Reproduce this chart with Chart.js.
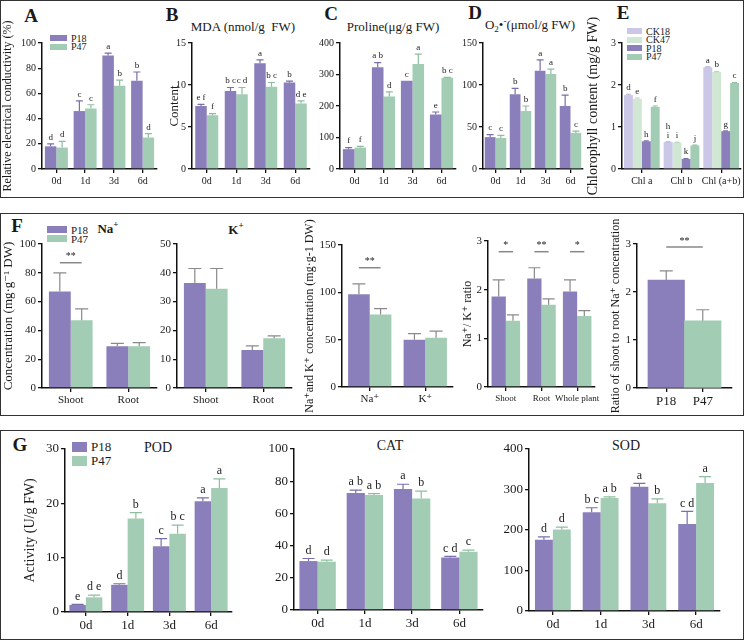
<!DOCTYPE html>
<html><head>
<meta charset="UTF-8">
<title>Salt stress physiology P18 vs P47</title>
<style>
  body { margin: 0; background: #fff; font-family: "Liberation Serif", "DejaVu Serif", serif; color: #1a1a1a; }
  #fig { position: relative; width: 744px; height: 640px; overflow: hidden; }
  .box { position: absolute; border: 1.5px solid #333; box-sizing: border-box; }
  canvas { position: absolute; }
  .c { position: absolute; transform: translate(-50%, -50%); white-space: nowrap; }
  .pl { font-weight: bold; font-size: 19px; }
  .hd { font-size: 13px; }
  .leg { position: absolute; }
  .leg div { display: flex; align-items: center; height: var(--h); white-space: nowrap; }
  .leg i { display: block; margin-right: 4px; }
  sub, sup { font-size: 70%; }
</style>
<script src="https://cdn.jsdelivr.net/npm/chart.js@4/dist/chart.umd.min.js"></script>
</head>
<body>
<div id="fig">
  <div class="box" style="left:0;top:0;width:744px;height:198px"></div>
  <div class="box" style="left:0;top:213px;width:744px;height:203px"></div>
  <div class="box" style="left:0;top:430px;width:744px;height:210px"></div>

  <div class="c pl" style="left:31px;top:16px">A</div>
  <div class="c pl" style="left:172px;top:15px">B</div>
  <div class="c pl" style="left:331px;top:14px">C</div>
  <div class="c pl" style="left:475px;top:13px">D</div>
  <div class="c pl" style="left:623px;top:13px">E</div>
  <div class="c hd" style="left:243px;top:27px">MDA (nmol/g&nbsp; FW)</div>
  <div class="c hd" style="left:393px;top:27px">Proline(μg/g FW)</div>
  <div class="c hd" style="left:530px;top:25px">O<sub>2</sub>•<sup>-</sup>(μmol/g FW)</div>

  <div class="c pl" style="left:17px;top:226px">F</div>
  <div class="c hd" style="left:108px;top:228px;font-weight:bold">Na<sup>+</sup></div>
  <div class="c hd" style="left:236px;top:229px;font-weight:bold">K<sup>+</sup></div>

  <div class="c pl" style="left:20px;top:445px">G</div>
  <div class="c" style="left:158px;top:448px;font-size:14px">POD</div>
  <div class="c" style="left:390px;top:446px;font-size:14px">CAT</div>
  <div class="c" style="left:626px;top:446px;font-size:14px">SOD</div>

  <div class="leg" style="left:50px;top:34px;font-size:10px;--h:8.5px">
    <div><i style="width:17px;height:6px;background:#8b7fbb"></i>P18</div>
    <div><i style="width:17px;height:6px;background:#a2cdb4"></i>P47</div>
  </div>
  <div class="leg" style="left:627px;top:27px;font-size:10px;--h:8.5px">
    <div><i style="width:15px;height:6px;background:#cac7e7"></i>CK18</div>
    <div><i style="width:15px;height:6px;background:#d0e8d3"></i>CK47</div>
    <div><i style="width:15px;height:6px;background:#8b7fbb"></i>P18</div>
    <div><i style="width:15px;height:6px;background:#a2cdb4"></i>P47</div>
  </div>
  <div class="leg" style="left:47px;top:225px;font-size:11px;--h:9px">
    <div><i style="width:20px;height:7px;background:#8b7fbb"></i>P18</div>
    <div><i style="width:20px;height:7px;background:#a2cdb4"></i>P47</div>
  </div>
  <div class="leg" style="left:72px;top:440px;font-size:13px;--h:14px">
    <div><i style="width:15px;height:10px;background:#8b7fbb"></i>P18</div>
    <div><i style="width:15px;height:10px;background:#a2cdb4"></i>P47</div>
  </div>
</div>

<script>
// categories
const days = ['0d', '1d', '3d', '6d'];
const chlParts = ['Chl a', 'Chl b', 'Chl (a+b)'];
const tissues = ['Shoot', 'Root'];
const ions = ['Na⁺', 'K⁺'];
const ratioParts = ['Shoot', 'Root', 'Whole plant'];
const lines = ['P18', 'P47'];

// A relative electrical conductivity
const ecP18 = [18, 46, 90, 70], ecP18Err = [2, 8, 2, 7], ecP18Let = ['d', 'c', 'a', 'b'];
const ecP47 = [17, 48, 66, 25], ecP47Err = [5, 3, 4.5, 3], ecP47Let = ['d', 'c', 'b', 'd'];
// B MDA
const mdaP18 = [7.5, 9.3, 12.6, 10.3], mdaP18Err = [0.2, 0.4, 0.4, 0.15], mdaP18Let = ['e f', 'b c', 'a', 'b'];
const mdaP47 = [6.4, 8.9, 9.8, 7.8], mdaP47Err = [0.2, 0.8, 0.5, 0.3], mdaP47Let = ['f', 'c d', 'b c', 'd e'];
// C proline
const proP18 = [63, 323, 280, 173], proP18Err = [5, 15, 0, 8], proP18Let = ['f', 'a b', 'c', 'e'];
const proP47 = [68, 230, 333, 290], proP47Err = [4, 15, 32, 1], proP47Let = ['f', 'd', 'a', 'b c'];
// D superoxide
const supP18 = [38, 89, 117, 75], supP18Err = [3, 7, 13, 13], supP18Let = ['c', 'b', 'a', 'b'];
const supP47 = [37, 69, 113, 43], supP47Err = [3, 6, 6, 2], supP47Let = ['c', 'b', 'a', 'c'];
// E chlorophyll
const chlCK18 = [1.76, 0.64, 2.42], chlCK18Err = [0.02, 0.005, 0.01], chlCK18Let = ['d', 'h\ni', 'a'];
const chlCK47 = [1.67, 0.63, 2.31], chlCK47Err = [0.02, 0.005, 0.01], chlCK47Let = ['e', 'i', 'b'];
const chlP18 = [0.66, 0.24, 0.9], chlP18Err = [0.01, 0.01, 0.01], chlP18Let = ['h', 'k', 'g'];
const chlP47 = [1.48, 0.56, 2.05], chlP47Err = [0.02, 0.01, 0.01], chlP47Let = ['f', 'j', 'c'];
// F ions
const naP18 = [67, 29], naP18Err = [13, 2];
const naP47 = [47, 29], naP47Err = [8, 2.5];
const naSig = ['**', null], naSigY = [87, 0];
const kP18 = [36.5, 13.2], kP18Err = [5, 1.4];
const kP47 = [34.5, 17.3], kP47Err = [7, 0.8];
const ionP18 = [98, 50], ionP18Err = [11, 6.3];
const ionP47 = [76.5, 52], ionP47Err = [6.3, 7];
const ionSig = ['**', null], ionSigY = [126, 0];
const nkP18 = [1.86, 2.23, 1.96], nkP18Err = [0.34, 0.22, 0.24];
const nkP47 = [1.36, 1.69, 1.46], nkP47Err = [0.12, 0.12, 0.11];
const nkSig = ['*', '**', '*'], nkSigY = [2.78, 2.78, 2.78];
const shootRoot = [2.25, 1.4], shootRootErr = [0.19, 0.23];
const shootRootSig = '**', shootRootSigY = 2.94;
// G enzymes
const podP18 = [1.3, 5.0, 12.1, 20.4], podP18Err = [0.1, 0.2, 1.4, 0.6], podP18Let = ['e', 'd', 'c', 'a'];
const podP47 = [2.7, 17.2, 14.4, 22.8], podP47Err = [0.4, 1.1, 1.6, 1.7], podP47Let = ['d e', 'b', 'b c', 'a'];
const catP18 = [30.4, 72.7, 75.2, 32.6], catP18Err = [1.6, 1.7, 2.9, 0.7], catP18Let = ['d', 'a b', 'a', 'c d'];
const catP47 = [30, 71.5, 69.2, 36.2], catP47Err = [1, 0.8, 4.6, 1], catP47Let = ['d', 'a b', 'b', 'c'];
const sodP18 = [176, 244, 307, 215], sodP18Err = [7, 11, 8, 31], sodP18Let = ['d', 'b c', 'a', 'c d'];
const sodP47 = [201, 279, 266, 316], sodP47Err = [6, 3, 11, 16], sodP47Let = ['d', 'a b', 'b', 'a'];

const purple = '#8b7fbb', green = '#a2cdb4', ckPurple = '#cac7e7', ckGreen = '#d0e8d3';
const purpleErr = '#7a6eab', greenErr = '#8ebd9f', greyErr = '#8a8a8a';

Chart.defaults.font.family = '"Liberation Serif", "DejaVu Serif", serif';
Chart.defaults.color = '#1a1a1a';
const fig = document.getElementById('fig');

// error bars, significance letters and ** brackets
const extras = {
  id: 'extras',
  afterDatasetsDraw(chart, args, o) {
    const ctx = chart.ctx, y = chart.scales.y;
    ctx.save();
    chart.data.datasets.forEach((ds, i) => {
      chart.getDatasetMeta(i).data.forEach((bar, j) => {
        const d = ds.data[j];
        if (d == null) return;
        const v = typeof d === 'object' ? d.y : d;
        const e = ds.err ? ds.err[j] : 0;
        const top = y.getPixelForValue(v + e);
        if (e > 0) {
          ctx.strokeStyle = ds.errColor;
          ctx.lineWidth = 1.2;
          ctx.beginPath();
          ctx.moveTo(bar.x, bar.y); ctx.lineTo(bar.x, top);
          ctx.moveTo(bar.x - o.cap, top); ctx.lineTo(bar.x + o.cap, top);
          ctx.stroke();
        }
        if (ds.letters && ds.letters[j]) {
          ctx.fillStyle = '#222';
          ctx.font = o.size + 'px "Liberation Serif", serif';
          ctx.textAlign = 'center';
          ctx.textBaseline = 'bottom';
          ds.letters[j].split('\n').reverse().forEach((s, k) => ctx.fillText(s, bar.x, top - 2 - k * o.size));
        }
      });
    });
    (o.marks || []).forEach(m => {
      const x1 = chart.getDatasetMeta(m.a[0]).data[m.a[1]].x;
      const x2 = chart.getDatasetMeta(m.b[0]).data[m.b[1]].x;
      const yy = y.getPixelForValue(m.v);
      ctx.strokeStyle = '#888';
      ctx.lineWidth = 1.5;
      ctx.beginPath(); ctx.moveTo(x1, yy); ctx.lineTo(x2, yy); ctx.stroke();
      ctx.fillStyle = '#222';
      ctx.font = '10px "Liberation Serif", serif';
      ctx.textAlign = 'center';
      ctx.textBaseline = 'bottom';
      ctx.fillText(m.text, (x1 + x2) / 2, yy - 1);
    });
    ctx.restore();
  }
};

function bars(label, data, err, letters, color, errColor) {
  return {label, data, err, letters, backgroundColor: color, errColor: errColor || color, borderWidth: 0};
}

// box = canvas [x, y, w, h]; plot = axis frame [left, top, right, bottom], all in page pixels
function panel(box, plot, labels, datasets, o) {
  const [bx, by, bw, bh] = box, [l, t, r, b] = plot;
  const cv = document.createElement('canvas');
  cv.width = bw; cv.height = bh;
  cv.style.left = bx + 'px'; cv.style.top = by + 'px';
  fig.appendChild(cv);
  const line = {color: '#111', width: 1.5};
  const tickGrid = {drawOnChartArea: false, tickLength: 4, color: '#111', lineWidth: 1.3, offset: false};
  const x = Object.assign({
    type: 'category', offset: true, border: line, grid: tickGrid,
    ticks: {font: {size: o.xFont}, padding: 2, autoSkip: false, maxRotation: 0, minRotation: 0},
    afterFit: s => { s.height = by + bh - b; }
  }, o.x || {});
  return new Chart(cv, {
    type: 'bar',
    data: {labels, datasets},
    options: {
      responsive: false, animation: false, events: [],
      layout: {padding: {left: 0, top: t - by, right: bx + bw - r, bottom: 0}},
      datasets: {bar: {categoryPercentage: o.cat || 0.8, barPercentage: 1}},
      plugins: {legend: {display: false}, tooltip: {enabled: false},
        extras: {cap: o.cap || 3.5, size: o.letter || 9, marks: o.marks}},
      scales: {
        x,
        y: {
          min: 0, max: o.max, border: line, grid: tickGrid,
          ticks: {stepSize: o.step, font: {size: o.yFont}, padding: 2},
          title: {display: !!o.title, text: o.title, font: {size: o.titleSize || 13}, padding: 0},
          afterFit: s => { s.width = l - bx; }
        }
      }
    },
    plugins: [extras]
  });
}

const pair = (p18, p18e, p18l, p47, p47e, p47l, errs) => [
  bars('P18', p18, p18e, p18l, purple, errs ? greyErr : purpleErr),
  bars('P47', p47, p47e, p47l, green, errs ? greyErr : greenErr)
];
const sigMarks = (sig, ys) => sig.map((s, j) => s && {a: [0, j], b: [1, j], v: ys[j], text: s}).filter(Boolean);

// row 1
panel([1, 1, 159, 196], [42, 43, 157, 169], days, pair(ecP18, ecP18Err, ecP18Let, ecP47, ecP47Err, ecP47Let),
  {max: 100, step: 20, xFont: 10, yFont: 10, cat: 0.8, title: 'Relative electrical conductivity (%)', titleSize: 12});
panel([167, 1, 145, 194], [192, 43, 310, 169], days, pair(mdaP18, mdaP18Err, mdaP18Let, mdaP47, mdaP47Err, mdaP47Let),
  {max: 15, step: 5, xFont: 10, yFont: 10, cat: 0.78, title: 'Content', titleSize: 13});
panel([312, 29, 146, 166], [340, 43, 456, 169], days, pair(proP18, proP18Err, proP18Let, proP47, proP47Err, proP47Let),
  {max: 400, step: 100, xFont: 10, yFont: 10, cat: 0.8});
panel([458, 29, 127, 166], [483, 43, 583, 169], days, pair(supP18, supP18Err, supP18Let, supP47, supP47Err, supP47Let),
  {max: 150, step: 50, xFont: 10, yFont: 10, cat: 0.86});
panel([585, 1, 158, 194], [622, 43, 741, 169], chlParts, [
    bars('CK18', chlCK18, chlCK18Err, chlCK18Let, ckPurple, '#b3afd6'),
    bars('CK47', chlCK47, chlCK47Err, chlCK47Let, ckGreen, '#b5d6bb'),
    bars('P18', chlP18, chlP18Err, chlP18Let, purple, purpleErr),
    bars('P47', chlP47, chlP47Err, chlP47Let, green, greenErr)
  ],
  {max: 3, step: 1, xFont: 10, yFont: 10, cat: 0.9, cap: 2.5, title: 'Chlorophyll content (mg/g FW)', titleSize: 14});

// row 2
panel([1, 215, 158, 195], [42, 244, 157, 388], tissues, pair(naP18, naP18Err, null, naP47, naP47Err, null, true),
  {max: 100, step: 20, xFont: 11, yFont: 11, cat: 0.76, cap: 6.5, marks: sigMarks(naSig, naSigY),
   title: 'Concentration (mg·g⁻¹ DW)', titleSize: 13});
panel([160, 230, 134, 180], [177, 244, 292, 388], tissues, pair(kP18, kP18Err, null, kP47, kP47Err, null, true),
  {max: 50, step: 10, xFont: 11, yFont: 11, cat: 0.76, cap: 6.5});
panel([303, 215, 152, 199], [342, 245, 453, 387], ions, pair(ionP18, ionP18Err, null, ionP47, ionP47Err, null, true),
  {max: 150, step: 50, xFont: 11, yFont: 11, cat: 0.78, cap: 6.5, marks: sigMarks(ionSig, ionSigY),
   title: 'Na⁺and K⁺ concentration (mg·g-1 DW)', titleSize: 12});
panel([461, 227, 150, 184], [488, 241, 595, 387], ratioParts, pair(nkP18, nkP18Err, null, nkP47, nkP47Err, null, true),
  {max: 3, step: 1, xFont: 9, yFont: 11, cat: 0.8, cap: 6, marks: sigMarks(nkSig, nkSigY),
   title: 'Na⁺/ K⁺ ratio', titleSize: 12});
panel([609, 215, 126, 199], [637, 244, 732, 388], null, [{
    label: 'ratio', data: shootRoot.map((v, j) => ({x: j, y: v})), err: shootRootErr,
    backgroundColor: [purple, green], errColor: greyErr, borderWidth: 0
  }],
  {max: 3, step: 1, xFont: 13, yFont: 11, cat: 1, cap: 6.5,
   marks: [{a: [0, 0], b: [0, 1], v: shootRootSigY, text: shootRootSig}],
   title: 'Ratio of shoot to root Na⁺ concentration', titleSize: 12,
   x: {type: 'linear', min: -0.8, max: 1.8, offset: false,
       ticks: {stepSize: 1, includeBounds: false, font: {size: 13}, padding: 2, maxRotation: 0,
               callback: v => lines[v]}}});

// row 3
panel([22, 435, 213, 200], [65, 449, 232, 612], days, pair(podP18, podP18Err, podP18Let, podP47, podP47Err, podP47Let),
  {max: 30, step: 10, xFont: 13, yFont: 13, cat: 0.79, cap: 6, letter: 12, title: 'Activity (U/g FW)', titleSize: 14});
panel([245, 435, 241, 200], [294, 449, 483, 610], days, pair(catP18, catP18Err, catP18Let, catP47, catP47Err, catP47Let),
  {max: 100, step: 20, xFont: 13, yFont: 13, cat: 0.77, cap: 6, letter: 12});
panel([490, 435, 233, 200], [529, 449, 720, 611], days, pair(sodP18, sodP18Err, sodP18Let, sodP47, sodP47Err, sodP47Let),
  {max: 400, step: 100, xFont: 13, yFont: 13, cat: 0.75, cap: 6, letter: 12});
</script>
</body></html>
